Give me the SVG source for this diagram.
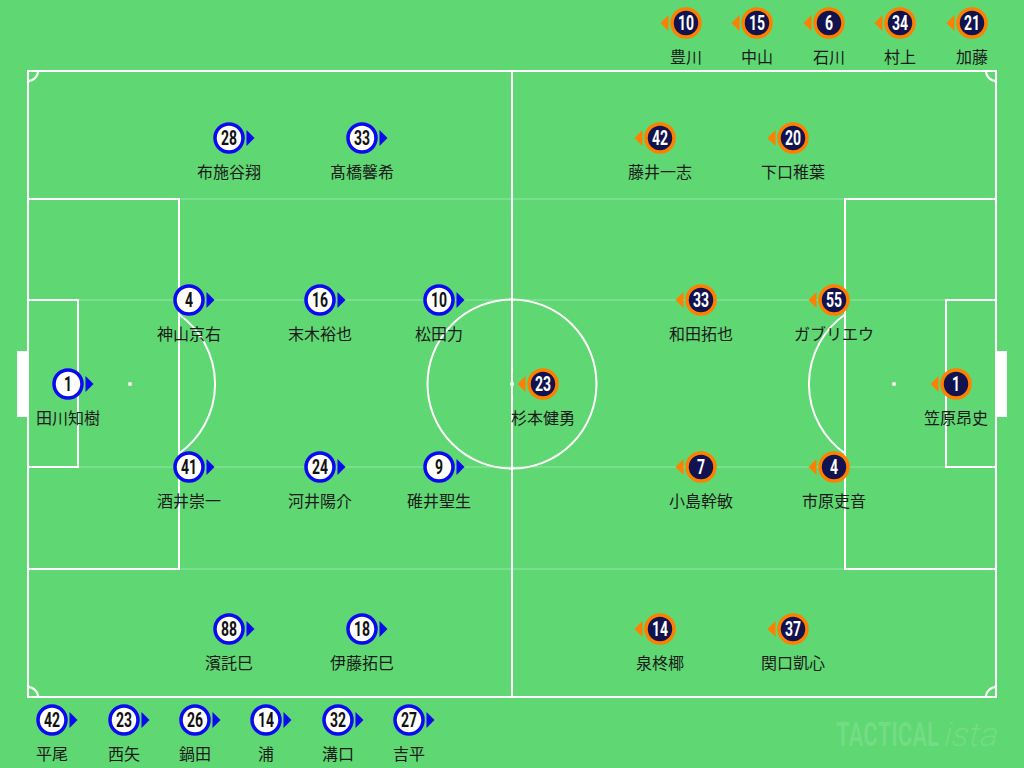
<svg xmlns="http://www.w3.org/2000/svg" xmlns:xlink="http://www.w3.org/1999/xlink" width="1024" height="768" viewBox="0 0 1024 768">
<style>
.line{fill:none;stroke:#fff;stroke-width:2}
.faint{fill:none;stroke:#fff;stroke-opacity:0.18;stroke-width:2}
.name{font-family:"Noto Sans CJK JP","Noto Sans",sans-serif;font-size:16px;fill:#1a1a1a;text-anchor:middle}
.numb{font-family:Roboto,"Liberation Sans",sans-serif;font-weight:bold;font-size:20px;fill:#111;text-anchor:middle}
.numo{font-family:Roboto,"Liberation Sans",sans-serif;font-weight:bold;font-size:20px;fill:#fff;text-anchor:middle}
.wm{font-family:Roboto,"Liberation Sans",sans-serif;font-size:34px;fill:#fff;fill-opacity:0.12}
</style>
<defs>
<g id="bm"><circle r="14" fill="#fff" stroke="#0a0aee" stroke-width="3.5"/><polygon points="17.5,-8 25.5,0 17.5,8" fill="#0a0aee"/></g>
<g id="om"><circle r="14" fill="#12124e" stroke="#ff7f00" stroke-width="3.5"/><polygon points="-17.5,-8 -25.5,0 -17.5,8" fill="#ff7f00"/></g>
</defs>
<rect width="1024" height="768" fill="#5fd773"/>
<g id="pitch">
<line class="faint" x1="28" y1="199" x2="996" y2="199"/>
<line class="faint" x1="28" y1="300" x2="996" y2="300"/>
<line class="faint" x1="28" y1="467" x2="996" y2="467"/>
<line class="faint" x1="28" y1="569" x2="996" y2="569"/>
<rect class="line" x="28" y="71" width="968" height="626"/>
<line class="line" x1="512" y1="71" x2="512" y2="697"/>
<circle class="line" cx="512" cy="384" r="84.5"/>
<circle cx="512" cy="384" r="2" fill="#fff"/>
<rect class="line" x="28" y="199" width="151" height="370"/>
<rect class="line" x="28" y="300" width="50" height="167"/>
<circle cx="130" cy="384" r="2" fill="#fff"/>
<path class="line" d="M179,314.5 A85,85 0 0 1 179,453.5"/>
<rect class="line" x="845" y="199" width="151" height="370"/>
<rect class="line" x="946" y="300" width="50" height="167"/>
<circle cx="894" cy="384" r="2" fill="#fff"/>
<path class="line" d="M845,314.5 A85,85 0 0 0 845,453.5"/>
<rect x="17" y="351" width="11" height="66" fill="#fff"/>
<rect x="996" y="351" width="11" height="66" fill="#fff"/>
<path class="line" d="M28,81 A10,10 0 0 0 38,71"/>
<path class="line" d="M986,71 A10,10 0 0 0 996,81"/>
<path class="line" d="M38,697 A10,10 0 0 0 28,687"/>
<path class="line" d="M996,687 A10,10 0 0 0 986,697"/>
</g>
<g id="connectors"></g>
<g id="home">
<g id="h28" transform="translate(229,138)"><use href="#bm"/><text class="numb" y="7" transform="scale(0.7,1)">28</text><text class="name" y="39.5">布施谷翔</text></g>
<g id="h33" transform="translate(362,138)"><use href="#bm"/><text class="numb" y="7" transform="scale(0.7,1)">33</text><text class="name" y="39.5">髙橋馨希</text></g>
<g id="h4" transform="translate(189,300)"><use href="#bm"/><text class="numb" y="7" transform="scale(0.7,1)">4</text><text class="name" y="39.5">神山京右</text></g>
<g id="h16" transform="translate(320,300)"><use href="#bm"/><text class="numb" y="7" transform="scale(0.7,1)">16</text><text class="name" y="39.5">末木裕也</text></g>
<g id="h10" transform="translate(439,300)"><use href="#bm"/><text class="numb" y="7" transform="scale(0.7,1)">10</text><text class="name" y="39.5">松田力</text></g>
<g id="h1" transform="translate(68,384)"><use href="#bm"/><text class="numb" y="7" transform="scale(0.7,1)">1</text><text class="name" y="39.5">田川知樹</text></g>
<g id="h41" transform="translate(189,467)"><use href="#bm"/><text class="numb" y="7" transform="scale(0.7,1)">41</text><text class="name" y="39.5">酒井崇一</text></g>
<g id="h24" transform="translate(320,467)"><use href="#bm"/><text class="numb" y="7" transform="scale(0.7,1)">24</text><text class="name" y="39.5">河井陽介</text></g>
<g id="h9" transform="translate(439,467)"><use href="#bm"/><text class="numb" y="7" transform="scale(0.7,1)">9</text><text class="name" y="39.5">碓井聖生</text></g>
<g id="h88" transform="translate(229,629)"><use href="#bm"/><text class="numb" y="7" transform="scale(0.7,1)">88</text><text class="name" y="39.5">濱託巳</text></g>
<g id="h18" transform="translate(362,629)"><use href="#bm"/><text class="numb" y="7" transform="scale(0.7,1)">18</text><text class="name" y="39.5">伊藤拓巳</text></g>
</g>
<g id="away">
<g id="a42" transform="translate(660,138)"><use href="#om"/><text class="numo" y="7" transform="scale(0.7,1)">42</text><text class="name" y="39.5">藤井一志</text></g>
<g id="a20" transform="translate(793,138)"><use href="#om"/><text class="numo" y="7" transform="scale(0.7,1)">20</text><text class="name" y="39.5">下口稚葉</text></g>
<g id="a33" transform="translate(701,300)"><use href="#om"/><text class="numo" y="7" transform="scale(0.7,1)">33</text><text class="name" y="39.5">和田拓也</text></g>
<g id="a55" transform="translate(834,300)"><use href="#om"/><text class="numo" y="7" transform="scale(0.7,1)">55</text><text class="name" y="39.5">ガブリエウ</text></g>
<g id="a23" transform="translate(543,384)"><use href="#om"/><text class="numo" y="7" transform="scale(0.7,1)">23</text><text class="name" y="39.5">杉本健勇</text></g>
<g id="a1" transform="translate(956,384)"><use href="#om"/><text class="numo" y="7" transform="scale(0.7,1)">1</text><text class="name" y="39.5">笠原昂史</text></g>
<g id="a7" transform="translate(701,467)"><use href="#om"/><text class="numo" y="7" transform="scale(0.7,1)">7</text><text class="name" y="39.5">小島幹敏</text></g>
<g id="a4" transform="translate(834,467)"><use href="#om"/><text class="numo" y="7" transform="scale(0.7,1)">4</text><text class="name" y="39.5">市原吏音</text></g>
<g id="a14" transform="translate(660,629)"><use href="#om"/><text class="numo" y="7" transform="scale(0.7,1)">14</text><text class="name" y="39.5">泉柊椰</text></g>
<g id="a37" transform="translate(793,629)"><use href="#om"/><text class="numo" y="7" transform="scale(0.7,1)">37</text><text class="name" y="39.5">関口凱心</text></g>
</g>
<g id="away-subs">
<g id="as10" transform="translate(686,23)"><use href="#om"/><text class="numo" y="7" transform="scale(0.7,1)">10</text><text class="name" y="40">豊川</text></g>
<g id="as15" transform="translate(757,23)"><use href="#om"/><text class="numo" y="7" transform="scale(0.7,1)">15</text><text class="name" y="40">中山</text></g>
<g id="as6" transform="translate(829,23)"><use href="#om"/><text class="numo" y="7" transform="scale(0.7,1)">6</text><text class="name" y="40">石川</text></g>
<g id="as34" transform="translate(900,23)"><use href="#om"/><text class="numo" y="7" transform="scale(0.7,1)">34</text><text class="name" y="40">村上</text></g>
<g id="as21" transform="translate(972,23)"><use href="#om"/><text class="numo" y="7" transform="scale(0.7,1)">21</text><text class="name" y="40">加藤</text></g>
</g>
<g id="home-subs">
<g id="hs42" transform="translate(52,720)"><use href="#bm"/><text class="numb" y="7" transform="scale(0.7,1)">42</text><text class="name" y="39.5">平尾</text></g>
<g id="hs23" transform="translate(124,720)"><use href="#bm"/><text class="numb" y="7" transform="scale(0.7,1)">23</text><text class="name" y="39.5">西矢</text></g>
<g id="hs26" transform="translate(195,720)"><use href="#bm"/><text class="numb" y="7" transform="scale(0.7,1)">26</text><text class="name" y="39.5">鍋田</text></g>
<g id="hs14" transform="translate(266,720)"><use href="#bm"/><text class="numb" y="7" transform="scale(0.7,1)">14</text><text class="name" y="39.5">浦</text></g>
<g id="hs32" transform="translate(338,720)"><use href="#bm"/><text class="numb" y="7" transform="scale(0.7,1)">32</text><text class="name" y="39.5">溝口</text></g>
<g id="hs27" transform="translate(409,720)"><use href="#bm"/><text class="numb" y="7" transform="scale(0.7,1)">27</text><text class="name" y="39.5">吉平</text></g>
</g>
<g id="watermark">
<text class="wm" x="836" y="746" font-weight="bold" textLength="103" lengthAdjust="spacingAndGlyphs">TACTICAL</text>
<text class="wm" x="942" y="746" font-weight="300" textLength="54" lengthAdjust="spacingAndGlyphs" transform="translate(942,746) skewX(-14) translate(-942,-746)">ista</text>
</g>
</svg>
